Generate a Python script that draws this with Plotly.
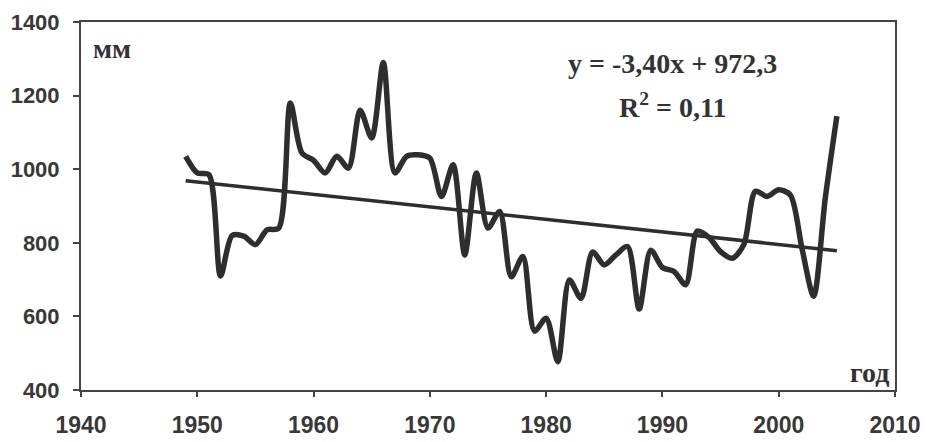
import plotly.graph_objects as go

# Annual precipitation series, mm
years = list(range(1949, 2006))
precip = [
    1035, 990, 985, 710, 820, 818, 795, 835, 840, 1180,   # 1949-1958
    1044, 1024, 990, 1035, 1003, 1160, 1085, 1290, 990, 1035,  # 1959-1968
    1039, 1030, 926, 1012, 767, 990, 840, 885, 708, 763,   # 1969-1978
    560, 595, 477, 699, 649, 775, 740, 767, 790, 620,      # 1979-1988
    780, 733, 722, 686, 832, 815, 776, 758, 795, 940,      # 1989-1998
    926, 944, 930, 785, 655, 920, 1144,                    # 1999-2005
]

# Linear trend as stated in the equation label (x = 1 for the first year)
slope = -3.40
intercept = 972.3
trend_x = [years[0], years[-1]]
trend_y = [intercept + slope * (y - years[0] + 1) for y in trend_x]

x_ticks = [1940, 1950, 1960, 1970, 1980, 1990, 2000, 2010]
y_ticks = [400, 600, 800, 1000, 1200, 1400]

ink = "#2e2e2e"
sans = "Liberation Sans, Arial, sans-serif"
serif = "Liberation Serif, Times New Roman, serif"
text_col = "#383838"

fig = go.Figure()
fig.add_trace(go.Scatter(
    x=years, y=precip, mode="lines",
    line=dict(color=ink, width=5.5, shape="spline", smoothing=0.8),
    showlegend=False, hoverinfo="x+y",
))
fig.add_trace(go.Scatter(
    x=trend_x, y=trend_y, mode="lines",
    line=dict(color=ink, width=3.5),
    showlegend=False, hoverinfo="skip",
))

fig.update_xaxes(
    range=[1940, 2010], tickvals=x_ticks, ticktext=[str(v) for v in x_ticks],
    showline=True, linecolor="#444", linewidth=2, mirror=True,
    ticks="outside", ticklen=5, tickwidth=1.5, tickcolor="#444",
    showgrid=False, zeroline=False, automargin=False,
    tickfont=dict(family=sans, size=23, color=text_col, weight="bold"),
    ticklabelstandoff=8,
)
fig.update_yaxes(
    range=[400, 1400], tickvals=y_ticks, ticktext=[str(v) for v in y_ticks],
    showline=True, linecolor="#444", linewidth=2, mirror=True,
    ticks="outside", ticklen=6, tickwidth=1.5, tickcolor="#444",
    showgrid=False, zeroline=False, automargin=False,
    tickfont=dict(family=sans, size=22, color=text_col, weight="bold"),
    ticklabelstandoff=9,
)

# plot area in pixels
L, R, T, B = 81, 31, 22, 52
W, H = 926, 442


def px_to_paper(px, py):
    return (px - L) / (W - L - R), 1 - (py - T) / (H - T - B)


eq_x, eq_y1 = px_to_paper(672, 64)
_, eq_y2 = px_to_paper(672, 105)

annots = [
    dict(x=0.012, y=0.975, xref="paper", yref="paper", xanchor="left", yanchor="top",
         text="<b>мм</b>", font=dict(family=serif, size=28, color="#333")),
    dict(x=0.995, y=0.0, xref="paper", yref="paper", xanchor="right", yanchor="bottom",
         text="<b>год</b>", font=dict(family=serif, size=28, color="#333")),
    dict(x=eq_x, y=eq_y1, xref="paper", yref="paper", xanchor="center", yanchor="middle",
         text="<b>y = -3,40x + 972,3</b>", font=dict(family=serif, size=28, color="#333")),
    dict(x=eq_x, y=eq_y2, xref="paper", yref="paper", xanchor="center", yanchor="middle",
         text="<b>R<sup>2</sup> = 0,11</b>", font=dict(family=serif, size=28, color="#333")),
]
for a in annots:
    a["showarrow"] = False

fig.update_layout(
    width=W, height=H,
    margin=dict(l=L, r=R, t=T, b=B, autoexpand=False),
    paper_bgcolor="white", plot_bgcolor="white",
    annotations=annots,
)

fig.write_html("out.html")
